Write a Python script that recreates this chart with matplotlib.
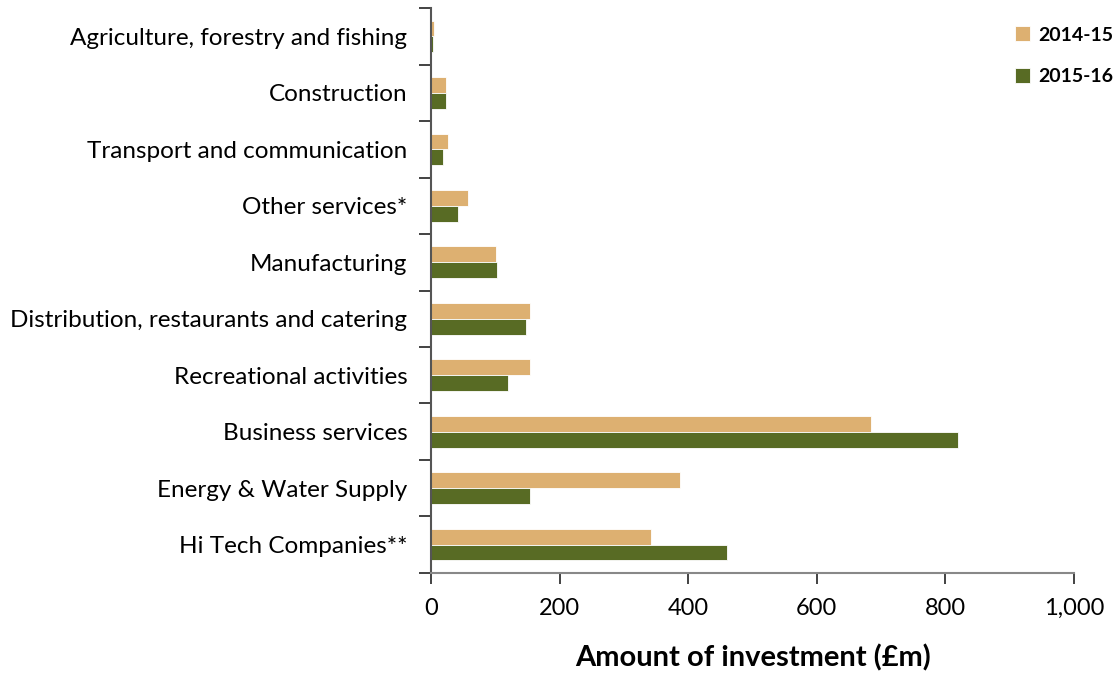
import numpy as np
import matplotlib
matplotlib.use("Agg")
import matplotlib.pyplot as plt
from matplotlib.ticker import FixedLocator, FuncFormatter

plt.rcParams['font.family'] = ['Lato', 'DejaVu Sans']

sectors = ["Agriculture, forestry and fishing", "Construction",
           "Transport and communication", "Other services*", "Manufacturing",
           "Distribution, restaurants and catering", "Recreational activities",
           "Business services", "Energy & Water Supply", "Hi Tech Companies**"]
inv_1415 = [5, 24, 26, 57, 101, 154, 154, 684, 387, 342]
inv_1516 = [3, 24, 19, 42, 103, 147, 119, 819, 154, 460]
years = ["2014-15", "2015-16"]
colors = ["#DDB071", "#586B24"]

fig = plt.figure(figsize=(11.13, 6.78), dpi=100)
ax = fig.add_axes([0.3873, 0.155, 0.5777, 0.833])

n = len(sectors)
y = np.arange(n)[::-1]          # first sector at top
h = 0.28
ax.barh(y + h / 2, inv_1415, height=h, color=colors[0], edgecolor="white",
        linewidth=0.6, label=years[0])
ax.barh(y - h / 2, inv_1516, height=h, color=colors[1], edgecolor="white",
        linewidth=0.6, label=years[1])

ax.set_xlim(0, 1000)
ax.set_ylim(-0.5, n - 0.5)
ax.set_xticks(range(0, 1001, 200))
ax.xaxis.set_major_formatter(FuncFormatter(lambda v, _: f"{int(v):,}"))
ax.tick_params(axis="x", length=8, width=1.2, color="#222", labelsize=17,
               pad=10)

# category names at centres, tick marks at the group boundaries
ax.set_yticks(y)
ax.set_yticklabels(sectors)
ax.yaxis.set_minor_locator(FixedLocator(np.arange(-0.5, n, 1.0)))
ax.tick_params(axis="y", which="major", length=0, labelsize=17.5, pad=17)
ax.tick_params(axis="y", which="minor", length=9, width=1.2, color="#222")

for s in ["top", "right"]:
    ax.spines[s].set_visible(False)
ax.spines["left"].set_color("#555")
ax.spines["left"].set_linewidth(1.5)
ax.spines["bottom"].set_color("#888")
ax.spines["bottom"].set_linewidth(1.5)

ax.set_xlabel("Amount of investment (£m)", fontsize=21, fontweight="bold",
              labelpad=18)

leg = fig.legend(loc="upper left", bbox_to_anchor=(0.896, 0.987), frameon=False,
                 prop={"weight": "bold", "size": 14},
                 handlelength=0.8, handleheight=0.8, handletextpad=0.4,
                 labelspacing=1.25)

fig.savefig("out.png", dpi=100)
